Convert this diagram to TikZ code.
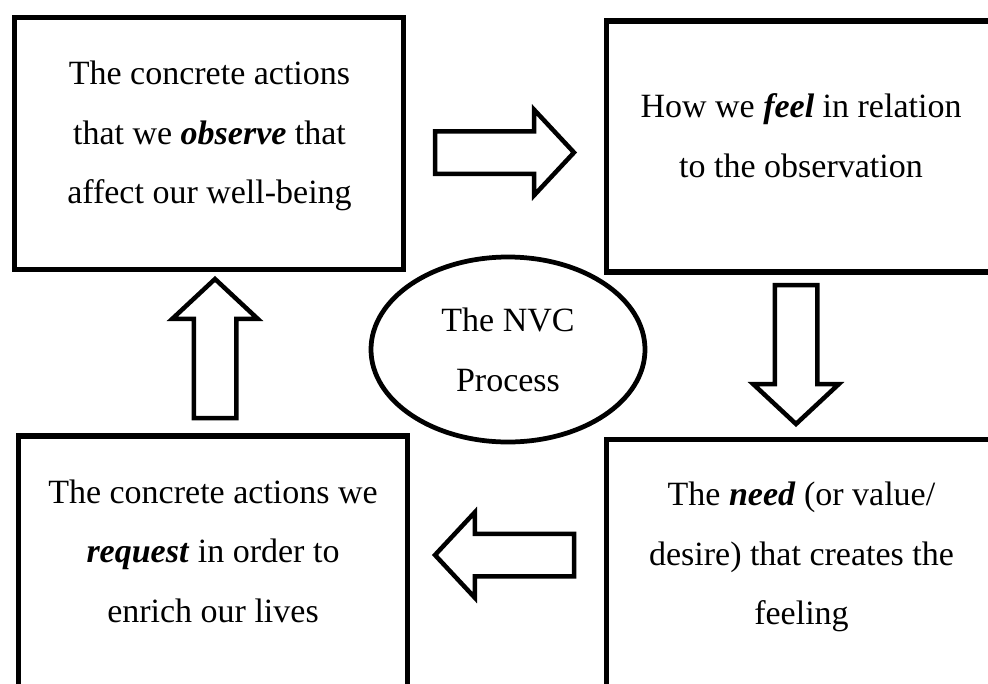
\documentclass[tikz,border=0pt]{standalone}
\usepackage{fontspec}
\setmainfont{Liberation Serif}
\usetikzlibrary{shapes.geometric,shapes.arrows}

\tikzset{
  stepbox/.style={rectangle, draw, line width=5.5pt, inner sep=0pt, outer sep=0pt},
  boxtext/.style={align=center, inner sep=0pt, font=\fontsize{34}{59.5}\selectfont},
  hub/.style={ellipse, draw, line width=4.75pt, inner sep=0pt,
    minimum width=274pt, minimum height=185pt, align=center,
    font=\fontsize{34}{60}\selectfont},
  blockarrow/.style={single arrow, draw, line width=4.5pt,
    inner xsep=0pt, inner ysep=19pt, outer sep=0pt,
    minimum height=139pt, anchor=tail,
    single arrow head extend=21.5pt, single arrow tip angle=94},
}
\newcommand\keyword[1]{\textbf{\textit{#1}}}

\begin{document}
\begin{tikzpicture}[x=1pt,y=-1pt]
\useasboundingbox (0,0) rectangle (988,683);
\clip (0,0) rectangle (988,683);
\fill[white] (0,0) rectangle (988,683);

% the four steps
\node[stepbox, minimum width=389pt, minimum height=252pt] (observe) at (209,143.5) {};
\node[stepbox, minimum width=389.5pt, minimum height=251pt] (feel) at (801.25,146.5) {};
\node[stepbox, minimum width=389pt, minimum height=300pt] (request) at (213,586) {};
\node[stepbox, minimum width=389pt, minimum height=300pt] (need) at (801,589.5) {};

\node[boxtext] (observeText) at (209.5,136.1)
  {The concrete actions\\that we \keyword{observe} that\\affect our well-being};
\node[boxtext] (feelText) at (801,135.9)
  {How we \keyword{feel} in relation\\to the observation};
\node[boxtext] (requestText) at (213,550.9)
  {The concrete actions we\\\keyword{request} in order to\\enrich our lives};
\node[boxtext] (needText) at (801.5,557.1)
  {The \keyword{need} (or value/\\desire) that creates the\\feeling};

% centre label
\node[hub] (process) at (508,349.5) {The NVC\\Process};

% block arrows between the steps, placed by their tails
\node[blockarrow] (toFeel) at (435,152.5) {};
\node[blockarrow, rotate=-90] (toNeed) at (796,285) {};
\node[blockarrow, rotate=180] (toRequest) at (574,555) {};
\node[blockarrow, rotate=90] (toObserve) at (215,418) {};
\end{tikzpicture}
\end{document}
